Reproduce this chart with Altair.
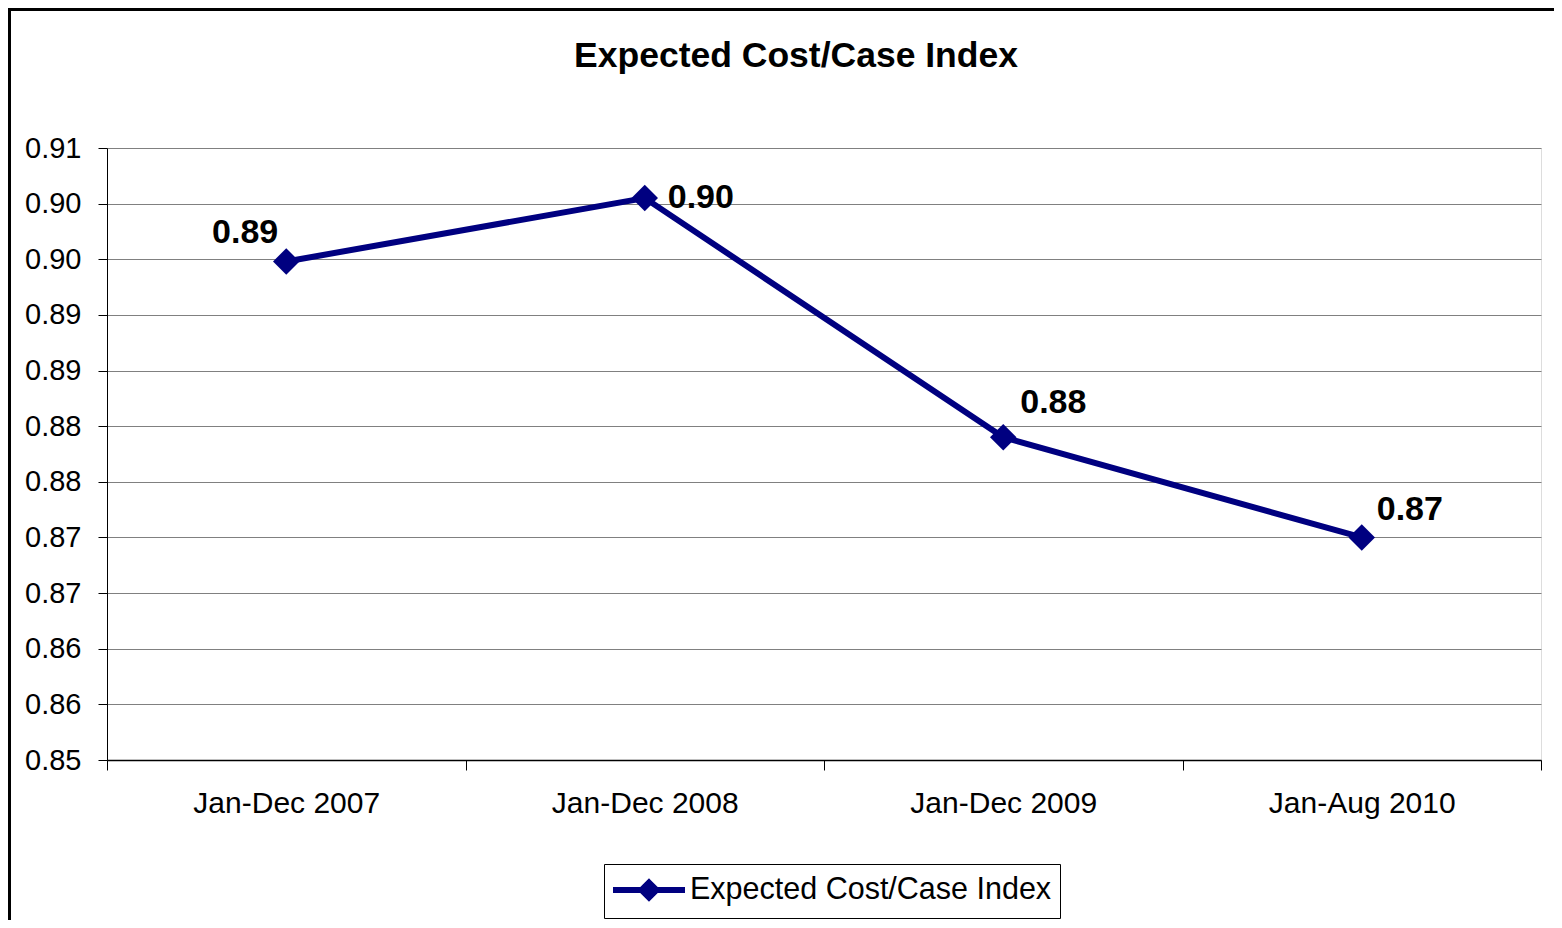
import json
import altair as alt
import pandas as pd

# ---- data ----
PERIODS = ["Jan-Dec 2007", "Jan-Dec 2008", "Jan-Dec 2009", "Jan-Aug 2010"]
INDEX_VALUES = [0.8948, 0.9005, 0.8790, 0.8700]
POINT_LABELS = ["0.89", "0.90", "0.88", "0.87"]
SERIES_NAME = "Expected Cost/Case Index"
TITLE = "Expected Cost/Case Index"
Y_TICK_VALUES = [0.85, 0.855, 0.86, 0.865, 0.87, 0.875, 0.88, 0.885, 0.89, 0.895, 0.90, 0.905]
Y_TICK_LABELS = ["0.85", "0.86", "0.86", "0.87", "0.87", "0.88",
                 "0.88", "0.89", "0.89", "0.90", "0.90", "0.91"]

df = pd.DataFrame({
    "period": PERIODS,
    "value": INDEX_VALUES,
    "label": POINT_LABELS,
    "series": [SERIES_NAME] * len(PERIODS),
    "idx": list(range(len(PERIODS))),
})

FONT = "Liberation Sans"
NAVY = "#000080"
W, H = 1434, 612

label_expr = f"{json.dumps(Y_TICK_LABELS)}[round((datum.value - 0.85) / 0.005)]"

x_enc = alt.X(
    "period:N", sort=PERIODS, bandPosition=0.5,
    scale=alt.Scale(type="band", paddingInner=0, paddingOuter=0),
    axis=alt.Axis(title=None, labelAngle=0, tickBand="extent", ticks=True, tickSize=10,
                  tickColor="black", domainColor="black", domainWidth=1.5,
                  labelFontSize=30, labelPadding=18, labelColor="black", labelFont=FONT,
                  labelLimit=0, grid=False),
)
y_enc = alt.Y(
    "value:Q",
    scale=alt.Scale(domain=[0.85, 0.905], nice=False, zero=False),
    axis=alt.Axis(title=None, values=Y_TICK_VALUES, labelExpr=label_expr, tickSize=9,
                  tickColor="black", domainColor="black", grid=True, gridColor="#808080",
                  gridWidth=1, labelFontSize=29, labelPadding=17, labelColor="black",
                  labelFont=FONT),
)

LEGEND_SYMBOL = "M-2.4,0L2.4,0M0,-0.5L0.5,0L0,0.5L-0.5,0Z"

line = alt.Chart(df).mark_line(strokeWidth=6).encode(
    x=x_enc, y=y_enc,
    color=alt.Color(
        "series:N",
        scale=alt.Scale(domain=[SERIES_NAME], range=[NAVY]),
        legend=alt.Legend(
            title=None, orient="none", legendX=497, legendY=716,
            symbolType=LEGEND_SYMBOL, symbolSize=900, symbolStrokeWidth=6,
            symbolFillColor=NAVY, symbolStrokeColor=NAVY, symbolOffset=19,
            labelFontSize=30.5, labelFont=FONT, labelColor="black", labelOffset=23,
            labelLimit=0, padding=8, strokeColor="black", fillColor="white",
        ),
    ),
)

points = alt.Chart(df).mark_point(shape="diamond", filled=True, size=700,
                                  color=NAVY, opacity=1).encode(x=x_enc, y=y_enc)

label_styles = [
    dict(align="right", dx=-8, dy=-28),
    dict(align="left", dx=23, dy=0),
    dict(align="left", dx=17, dy=-34),
    dict(align="left", dx=15, dy=-27),
]
text_layers = []
for i, st in enumerate(label_styles):
    text_layers.append(
        alt.Chart(df).transform_filter(alt.datum.idx == i).mark_text(
            font=FONT, fontSize=34, fontWeight="bold", color="black",
            baseline="middle", **st
        ).encode(x=x_enc, y=y_enc, text="label:N")
    )

frame_df = pd.DataFrame({"k": [0]})
frame_top = alt.Chart(frame_df).mark_rule(color="black", strokeWidth=3).encode(
    x=alt.value(-99), x2=alt.value(1447), y=alt.value(-138.5))
frame_left = alt.Chart(frame_df).mark_rule(color="black", strokeWidth=3).encode(
    x=alt.value(-97.5), y=alt.value(-140), y2=alt.value(772))

chart = alt.layer(frame_top, frame_left, line, points, *text_layers).properties(
    width=W, height=H,
    autosize=alt.AutoSizeParams(type="none"),
    padding={"top": 140, "left": 99, "right": 13, "bottom": 160},
    title=alt.TitleParams(TITLE, font=FONT, fontSize=35.5, fontWeight="bold", color="black",
                          anchor="middle", dx=-28, offset=-96, baseline="alphabetic"),
).configure_view(stroke="#808080", strokeWidth=2).configure(background="white")

chart.save("out.html", embed_options={"renderer": "svg", "actions": False})
